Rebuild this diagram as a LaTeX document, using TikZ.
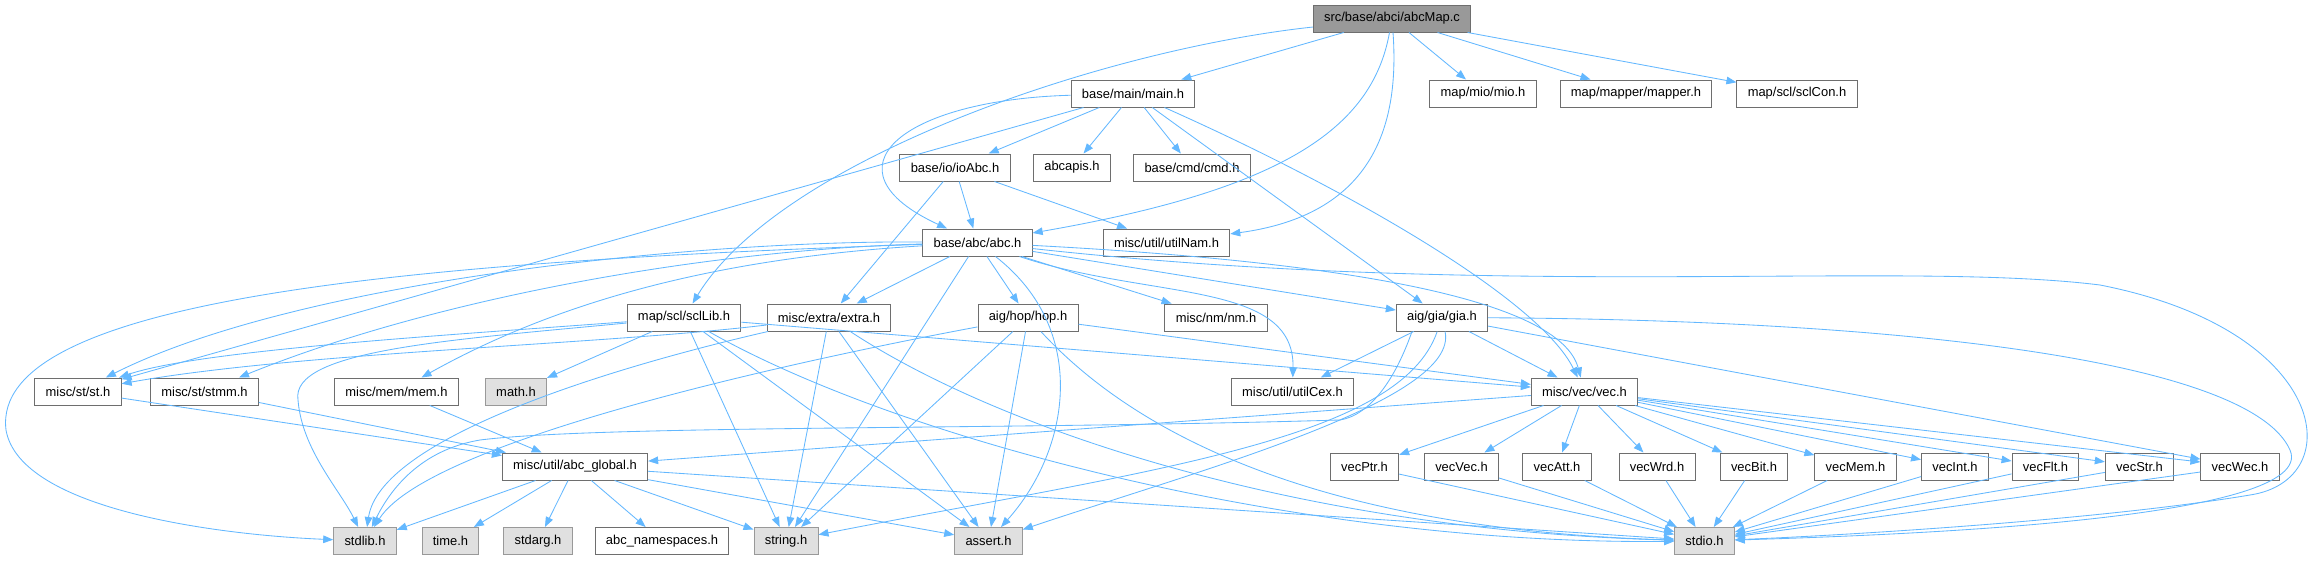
\documentclass[tikz,border=0pt]{standalone}
\usepackage{fontspec}
\setmainfont{Liberation Sans}
\usetikzlibrary{arrows.meta}
\definecolor{edgeblue}{HTML}{63B8FF}
\definecolor{boxline}{HTML}{6E6E6E}
\definecolor{rootfill}{HTML}{999999}
\definecolor{sysfill}{HTML}{E0E0E0}
\definecolor{sysline}{HTML}{999999}
\tikzset{
  filebox/.style={
    draw=boxline,
    line width=0.7pt,
    fill=white,
    inner xsep=0.27cm,
    inner ysep=0pt,
    minimum height=0.675cm,
    font=\fontsize{9.2}{11}\selectfont,
    text=black
  },
  sysbox/.style={filebox,draw=sysline,fill=sysfill},
  rootbox/.style={filebox,fill=rootfill},
  incarrow/.style={-{Triangle[length=0.25cm,width=0.19cm]},line width=0.6pt,draw=edgeblue}
}

\begin{document}
\begin{tikzpicture}[x=0.025cm,y=-0.025cm]
\path[fill=white,use as bounding box] (0,0) rectangle (2324,560);
\node[rootbox] (root) at (1392,18.5) {src/base/abci/abcMap.c};
\node[filebox] (mainh) at (1133,93.5) {base/main/main.h};
\node[filebox] (mio) at (1483,93.5) {map/mio/mio.h};
\node[filebox] (mapper) at (1636,93.5) {map/mapper/mapper.h};
\node[filebox] (sclcon) at (1797,93.5) {map/scl/sclCon.h};
\node[filebox] (ioabc) at (955,167.5) {base/io/ioAbc.h};
\node[filebox] (abcapis) at (1072,167.5) {abcapis.h};
\node[filebox] (cmd) at (1192,167.5) {base/cmd/cmd.h};
\node[filebox] (abch) at (977.5,242.5) {base/abc/abc.h};
\node[filebox] (utilnam) at (1166.5,242.5) {misc/util/utilNam.h};
\node[filebox] (scllib) at (684,317.5) {map/scl/sclLib.h};
\node[filebox] (extra) at (829,317.5) {misc/extra/extra.h};
\node[filebox] (hop) at (1028,317.5) {aig/hop/hop.h};
\node[filebox] (nm) at (1216,317.5) {misc/nm/nm.h};
\node[filebox] (gia) at (1442,317.5) {aig/gia/gia.h};
\node[filebox] (st) at (78,391.5) {misc/st/st.h};
\node[filebox] (stmm) at (204.5,391.5) {misc/st/stmm.h};
\node[filebox] (mem) at (396.5,391.5) {misc/mem/mem.h};
\node[sysbox] (mathh) at (516,391.5) {math.h};
\node[filebox] (utilcex) at (1292.5,391.5) {misc/util/utilCex.h};
\node[filebox] (vec) at (1584.5,391.5) {misc/vec/vec.h};
\node[filebox] (abcglobal) at (575,466.5) {misc/util/abc\_global.h};
\node[filebox] (vecptr) at (1364.5,466.5) {vecPtr.h};
\node[filebox] (vecvec) at (1461.5,466.5) {vecVec.h};
\node[filebox] (vecatt) at (1557,466.5) {vecAtt.h};
\node[filebox] (vecwrd) at (1657,466.5) {vecWrd.h};
\node[filebox] (vecbit) at (1754,466.5) {vecBit.h};
\node[filebox] (vecmem) at (1855.5,466.5) {vecMem.h};
\node[filebox] (vecint) at (1955,466.5) {vecInt.h};
\node[filebox] (vecflt) at (2045.5,466.5) {vecFlt.h};
\node[filebox] (vecstr) at (2139.5,466.5) {vecStr.h};
\node[filebox] (vecwec) at (2240,466.5) {vecWec.h};
\node[sysbox] (stdlib) at (365,541) {stdlib.h};
\node[sysbox] (timeh) at (450.5,541) {time.h};
\node[sysbox] (stdarg) at (538,541) {stdarg.h};
\node[filebox] (abcns) at (662,541) {abc\_namespaces.h};
\node[sysbox] (stringh) at (786,541) {string.h};
\node[sysbox] (asserth) at (988.5,541) {assert.h};
\node[sysbox] (stdio) at (1704.5,541) {stdio.h};

\draw[incarrow] (root) -- (mainh);
\draw[incarrow] (root) -- (mio);
\draw[incarrow] (root) -- (mapper);
\draw[incarrow] (root) -- (sclcon);
\draw[incarrow] (root) .. controls (1372,130) and (1280,190) .. (abch);
\draw[incarrow] (root) .. controls (1400,130) and (1370,215) .. (utilnam);
\draw[incarrow] (root) .. controls (1100,50) and (780,160) .. (scllib);

\draw[incarrow] (mainh) -- (ioabc);
\draw[incarrow] (mainh) -- (abcapis);
\draw[incarrow] (mainh) -- (cmd);
\draw[incarrow] (mainh) .. controls (900,100) and (820,170) .. (abch);
\draw[incarrow] (mainh) -- (st);
\draw[incarrow] (mainh) -- (gia);
\draw[incarrow] (mainh) .. controls (1350,190) and (1540,300) .. (vec);

\draw[incarrow] (ioabc) -- (abch);
\draw[incarrow] (ioabc) -- (utilnam);
\draw[incarrow] (ioabc) -- (extra);

\draw[incarrow] (abch) .. controls (700,240) and (300,280) .. (st);
\draw[incarrow] (abch) .. controls (700,250) and (430,300) .. (stmm);
\draw[incarrow] (abch) .. controls (720,258) and (560,300) .. (mem);
\draw[incarrow] (abch) .. controls (400,262) and (-10,300) .. (6,430) .. controls (20,510) and (220,535) .. (stdlib);
\draw[incarrow] (abch) -- (extra);
\draw[incarrow] (abch) -- (hop);
\draw[incarrow] (abch) -- (nm);
\draw[incarrow] (abch) .. controls (1150,300) and (1295,280) .. (utilcex);
\draw[incarrow] (abch) -- (gia);
\draw[incarrow] (abch) .. controls (1350,262) and (1560,300) .. (vec);
\draw[incarrow] (abch) -- (stringh);
\draw[incarrow] (abch) .. controls (1090,330) and (1070,450) .. (asserth);
\draw[incarrow] (abch) .. controls (1500,300) and (1900,260) .. (2100,285) .. controls (2330,330) and (2350,480) .. (2250,495) .. controls (2100,520) and (1850,535) .. (stdio);

\draw[incarrow] (scllib) .. controls (450,335) and (200,350) .. (st);
\draw[incarrow] (scllib) .. controls (450,340) and (290,350) .. (298,400) .. controls (302,450) and (340,490) .. (stdlib);
\draw[incarrow] (scllib) -- (mathh);
\draw[incarrow] (scllib) -- (stringh);
\draw[incarrow] (scllib) -- (asserth);
\draw[incarrow] (scllib) .. controls (900,440) and (1300,545) .. (stdio);
\draw[incarrow] (scllib) -- (vec);

\draw[incarrow] (extra) .. controls (600,345) and (300,352) .. (st);
\draw[incarrow] (extra) .. controls (600,370) and (380,440) .. (stdlib);
\draw[incarrow] (extra) -- (stringh);
\draw[incarrow] (extra) -- (asserth);
\draw[incarrow] (extra) .. controls (1000,430) and (1300,530) .. (stdio);

\draw[incarrow] (hop) -- (vec);
\draw[incarrow] (hop) .. controls (800,360) and (430,440) .. (stdlib);
\draw[incarrow] (hop) -- (stringh);
\draw[incarrow] (hop) -- (asserth);
\draw[incarrow] (hop) .. controls (1150,450) and (1350,530) .. (stdio);

\draw[incarrow] (gia) -- (utilcex);
\draw[incarrow] (gia) -- (vec);
\draw[incarrow] (gia) -- (vecwec);
\draw[incarrow] (gia.205) .. controls (1395,380) and (1370,415) .. (1340,420) .. controls (1000,430) and (600,425) .. (480,440) .. controls (420,450) and (390,490) .. (stdlib);
\draw[incarrow] (gia) .. controls (1400,440) and (1150,470) .. (stringh);
\draw[incarrow] (gia) .. controls (1460,400) and (1200,470) .. (asserth);
\draw[incarrow] (gia) .. controls (1900,320) and (2250,360) .. (2290,450) .. controls (2320,520) and (1900,535) .. (stdio);

\draw[incarrow] (st) -- (abcglobal);
\draw[incarrow] (stmm) -- (abcglobal);
\draw[incarrow] (mem) -- (abcglobal);

\draw[incarrow] (vec) -- (abcglobal);
\draw[incarrow] (vec) -- (vecptr);
\draw[incarrow] (vec) -- (vecvec);
\draw[incarrow] (vec) -- (vecatt);
\draw[incarrow] (vec) -- (vecwrd);
\draw[incarrow] (vec) -- (vecbit);
\draw[incarrow] (vec) -- (vecmem);
\draw[incarrow] (vec) -- (vecint);
\draw[incarrow] (vec) -- (vecflt);
\draw[incarrow] (vec) -- (vecstr);
\draw[incarrow] (vec) -- (vecwec);

\draw[incarrow] (vecptr) -- (stdio);
\draw[incarrow] (vecvec) -- (stdio);
\draw[incarrow] (vecatt) -- (stdio);
\draw[incarrow] (vecwrd) -- (stdio);
\draw[incarrow] (vecbit) -- (stdio);
\draw[incarrow] (vecmem) -- (stdio);
\draw[incarrow] (vecint) -- (stdio);
\draw[incarrow] (vecflt) -- (stdio);
\draw[incarrow] (vecstr) -- (stdio);
\draw[incarrow] (vecwec) -- (stdio);

\draw[incarrow] (abcglobal) -- (stdlib);
\draw[incarrow] (abcglobal) -- (timeh);
\draw[incarrow] (abcglobal) -- (stdarg);
\draw[incarrow] (abcglobal) -- (abcns);
\draw[incarrow] (abcglobal) -- (stringh);
\draw[incarrow] (abcglobal) -- (asserth);
\draw[incarrow] (abcglobal) -- (stdio);
\end{tikzpicture}
\end{document}
